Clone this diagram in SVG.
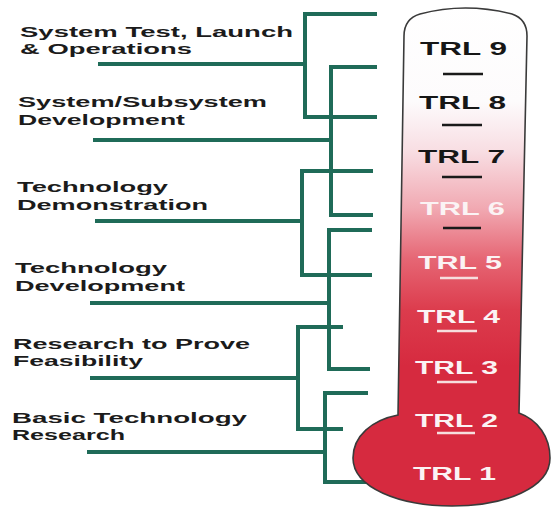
<svg xmlns="http://www.w3.org/2000/svg" width="551" height="508" viewBox="0 0 551 508">
  <defs>
    <linearGradient id="tubeGrad" gradientUnits="userSpaceOnUse" x1="0" y1="0" x2="0" y2="508">
      <stop offset="0" stop-color="#ffffff"/>
      <stop offset="0.2" stop-color="#fdfbfc"/>
      <stop offset="0.3" stop-color="#f8dde2"/>
      <stop offset="0.41" stop-color="#f1a9b2"/>
      <stop offset="0.51" stop-color="#e66674"/>
      <stop offset="0.61" stop-color="#dc3c4d"/>
      <stop offset="0.72" stop-color="#d62a3f"/>
      <stop offset="1" stop-color="#d62a3f"/>
    </linearGradient>
  </defs>
  <style>
    .lbl { font-family: "Liberation Sans", Arial, sans-serif; font-weight: bold; font-size: 15.5px; fill: #1b1b1b; }
    .trl { font-family: "Liberation Sans", Arial, sans-serif; font-weight: bold; font-size: 18px; }
    .dark { fill: #161616; }
    .light { fill: #fbf3f4; }
    .conn { fill: none; stroke: #1f6b58; stroke-width: 4; stroke-linejoin: miter; }
    .tickD { stroke: #1a1a1a; stroke-width: 2.5; }
    .tickL { stroke: #f6dede; stroke-width: 2.5; }
  </style>
  <rect width="551" height="508" fill="#ffffff"/>

  <g id="connectors">
    <path class="conn" d="M377,14 H305 V117 H377"/>
    <path class="conn" d="M98,64 H305"/>
    <path class="conn" d="M377,67 H331 V215 H373"/>
    <path class="conn" d="M93,140 H331"/>
    <path class="conn" d="M373,171 H302 V275 H372"/>
    <path class="conn" d="M95,221 H302"/>
    <path class="conn" d="M372,230 H329 V369 H370"/>
    <path class="conn" d="M90,303 H329"/>
    <path class="conn" d="M343,327 H298 V429 H343"/>
    <path class="conn" d="M90,378 H298"/>
    <path class="conn" d="M368,393 H325 V482 H366"/>
    <path class="conn" d="M87,452 H325"/>
  </g>

  <g id="thermometer">
    <path d="M398,415 L404,36 C404,24 410,17 420,14 Q465,2 512,14 C521,17 527,24 527,36 L519,413 C538,420 550,437 550,458 C550,488 505,506 452,506 C400,506 353,488 353,458 C353,436 372,420 398,415 Z" fill="url(#tubeGrad)" stroke="#3a3a3a" stroke-width="1.6"/>
  </g>

  <g id="trl9"><text class="trl dark" x="420" y="55" textLength="87" lengthAdjust="spacingAndGlyphs">TRL 9</text><line class="tickD" x1="443" y1="74" x2="483" y2="74"/></g>
  <g id="trl8"><text class="trl dark" x="419" y="109" textLength="87" lengthAdjust="spacingAndGlyphs">TRL 8</text><line class="tickD" x1="442" y1="125" x2="482" y2="125"/></g>
  <g id="trl7"><text class="trl dark" x="418" y="163" textLength="87" lengthAdjust="spacingAndGlyphs">TRL 7</text><line class="tickD" x1="442" y1="177" x2="482" y2="177"/></g>
  <g id="trl6"><text class="trl light" x="420" y="215" textLength="85" lengthAdjust="spacingAndGlyphs">TRL 6</text><line class="tickD" x1="443" y1="228" x2="481" y2="228"/></g>
  <g id="trl5"><text class="trl light" x="418" y="269" textLength="84" lengthAdjust="spacingAndGlyphs">TRL 5</text><line class="tickL" x1="440" y1="278" x2="478" y2="278"/></g>
  <g id="trl4"><text class="trl light" x="417" y="323" textLength="83" lengthAdjust="spacingAndGlyphs">TRL 4</text><line class="tickL" x1="437" y1="331" x2="477" y2="331"/></g>
  <g id="trl3"><text class="trl light" x="415" y="374" textLength="83" lengthAdjust="spacingAndGlyphs">TRL 3</text><line class="tickL" x1="437" y1="382" x2="477" y2="382"/></g>
  <g id="trl2"><text class="trl light" x="415" y="427" textLength="83" lengthAdjust="spacingAndGlyphs">TRL 2</text><line class="tickL" x1="437" y1="433" x2="475" y2="433"/></g>
  <g id="trl1"><text class="trl light" x="413" y="480" textLength="83" lengthAdjust="spacingAndGlyphs">TRL 1</text></g>

  <g id="stage-system-test">
    <text class="lbl" x="20" y="37" textLength="273" lengthAdjust="spacingAndGlyphs">System Test, Launch</text>
    <text class="lbl" x="20" y="54" textLength="172" lengthAdjust="spacingAndGlyphs">&amp; Operations</text>
  </g>
  <g id="stage-system-dev">
    <text class="lbl" x="18" y="107" textLength="249" lengthAdjust="spacingAndGlyphs">System/Subsystem</text>
    <text class="lbl" x="18" y="125" textLength="167" lengthAdjust="spacingAndGlyphs">Development</text>
  </g>
  <g id="stage-tech-demo">
    <text class="lbl" x="17" y="192" textLength="151" lengthAdjust="spacingAndGlyphs">Technology</text>
    <text class="lbl" x="17" y="210" textLength="191" lengthAdjust="spacingAndGlyphs">Demonstration</text>
  </g>
  <g id="stage-tech-dev">
    <text class="lbl" x="15" y="273" textLength="152" lengthAdjust="spacingAndGlyphs">Technology</text>
    <text class="lbl" x="15" y="291" textLength="170" lengthAdjust="spacingAndGlyphs">Development</text>
  </g>
  <g id="stage-research-feasibility">
    <text class="lbl" x="13" y="349" textLength="237" lengthAdjust="spacingAndGlyphs">Research to Prove</text>
    <text class="lbl" x="13" y="366" textLength="130" lengthAdjust="spacingAndGlyphs">Feasibility</text>
  </g>
  <g id="stage-basic-research">
    <text class="lbl" x="12" y="423" textLength="235" lengthAdjust="spacingAndGlyphs">Basic Technology</text>
    <text class="lbl" x="12" y="440" textLength="113" lengthAdjust="spacingAndGlyphs">Research</text>
  </g>
</svg>
